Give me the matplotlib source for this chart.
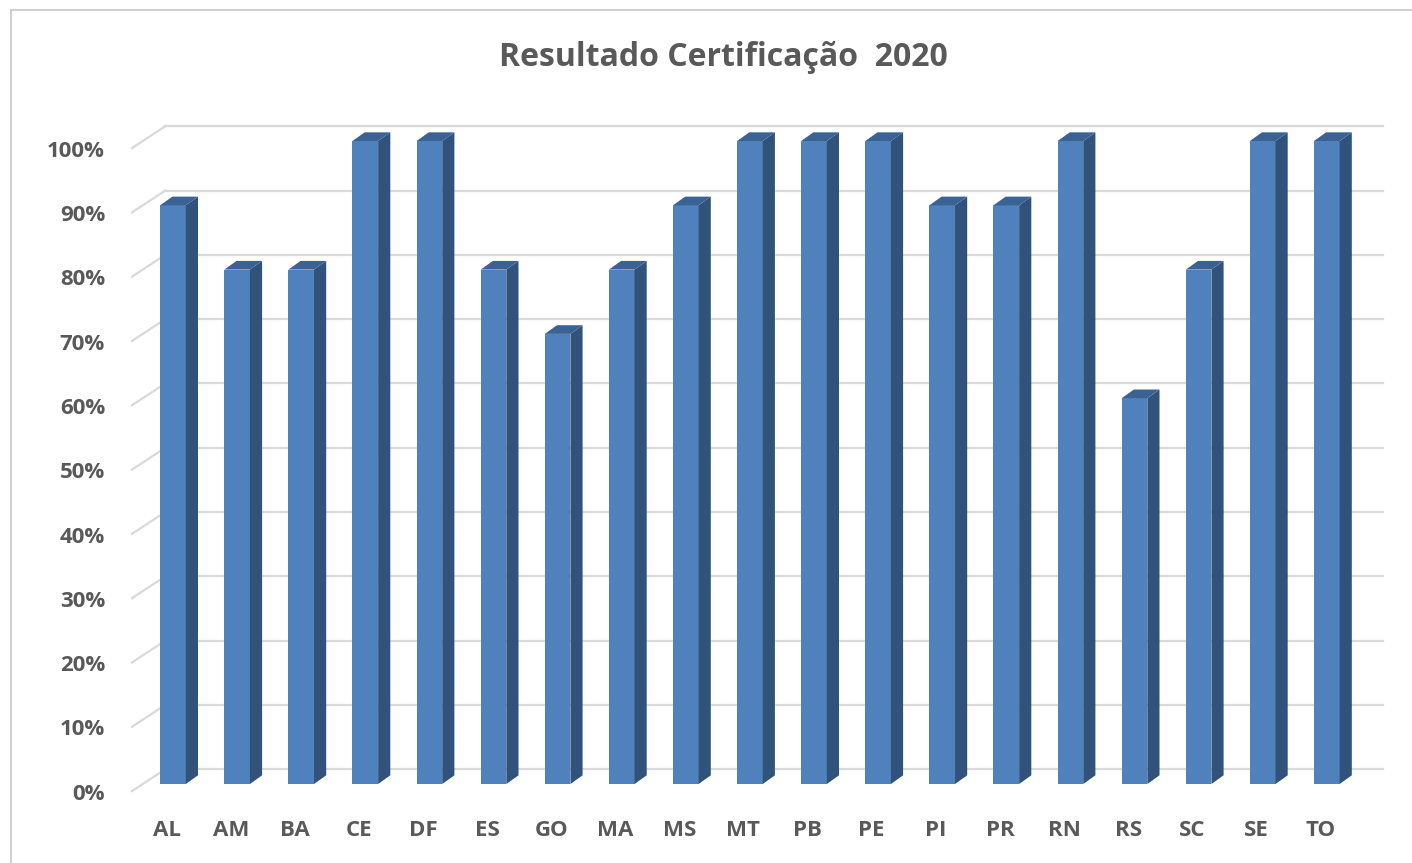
import numpy as np
import matplotlib
matplotlib.use("Agg")
import matplotlib.pyplot as plt
from matplotlib.patches import Polygon, Rectangle
from matplotlib.lines import Line2D

# === Data ===
states = ["AL", "AM", "BA", "CE", "DF", "ES", "GO", "MA", "MS", "MT",
          "PB", "PE", "PI", "PR", "RN", "RS", "SC", "SE", "TO"]
values = [90, 80, 80, 100, 100, 80, 70, 80, 90, 100,
          100, 100, 90, 90, 100, 60, 80, 100, 100]
ticks = [0, 10, 20, 30, 40, 50, 60, 70, 80, 90, 100]
title = "Resultado Certificação  2020"

# === Style ===
front_c = "#4F81BD"
side_c = "#31527A"
top_c = "#3B6294"
text_c = "#595959"
grid_c = "#D9D9D9"
font = ["Open Sans", "DejaVu Sans"]

bar_w = 0.40
dx, dy = 0.19, 1.35          # depth of the bar (data units)
gx_back, gy_back = -0.12, 2.3  # back wall offset for gridlines
gx_front, gy_front = -0.64, -1.1
x_end = 18.88

fig = plt.figure(figsize=(14.12, 8.63), dpi=100)
W, H = 1412, 863
ax = fig.add_axes([120 / W, 1 - 800 / H, (1395 - 120) / W, (800 - 115) / H])
ax.set_xlim((120 - 173) / 64.1, (1395 - 173) / 64.1)
ax.set_ylim((784 - 800) / 6.43, (784 - 115) / 6.43)
ax.axis("off")

# gridlines: diagonal on the left side wall + back wall line
for t in ticks:
    ax.add_line(Line2D([gx_front, gx_back], [t + gy_front, t + gy_back],
                       color=grid_c, lw=1.6, zorder=1))
    ax.add_line(Line2D([gx_back, x_end], [t + gy_back, t + gy_back],
                       color=grid_c, lw=1.6, zorder=1))
    ax.text(-1.06, t - 1.6, f"{t}%", ha="right", va="center",
            fontsize=16, fontweight="bold", color=text_c, family=font)

# pseudo-3D columns
for i, (s, v) in enumerate(zip(states, values)):
    x0, x1 = i - bar_w / 2, i + bar_w / 2
    ax.add_patch(Rectangle((x0, 0), bar_w, v, facecolor=front_c,
                           edgecolor="none", zorder=3))
    ax.add_patch(Polygon([(x1, 0), (x1 + dx, dy), (x1 + dx, v + dy), (x1, v)],
                         closed=True, facecolor=side_c, edgecolor="none", zorder=3))
    ax.add_patch(Polygon([(x0, v), (x1, v), (x1 + dx, v + dy), (x0 + dx, v + dy)],
                         closed=True, facecolor=top_c, edgecolor="none", zorder=3))
    ax.text(i - 0.1, -7.2, s, ha="center", va="center", fontsize=16,
            fontweight="bold", color=text_c, family=font)

fig.text(723 / W, 1 - 58 / H, title, ha="center", va="center", fontsize=23,
         fontweight="bold", color=text_c, family=font)

# chart frame (top and left edges visible)
fig.add_artist(Line2D([11 / W, 11 / W], [0, 1 - 10 / H], transform=fig.transFigure,
                      color="#D0D0D0", lw=1.5))
fig.add_artist(Line2D([11 / W, 1], [1 - 10 / H, 1 - 10 / H], transform=fig.transFigure,
                      color="#D0D0D0", lw=1.5))

fig.savefig("out.png", dpi=100)
plt.close(fig)
